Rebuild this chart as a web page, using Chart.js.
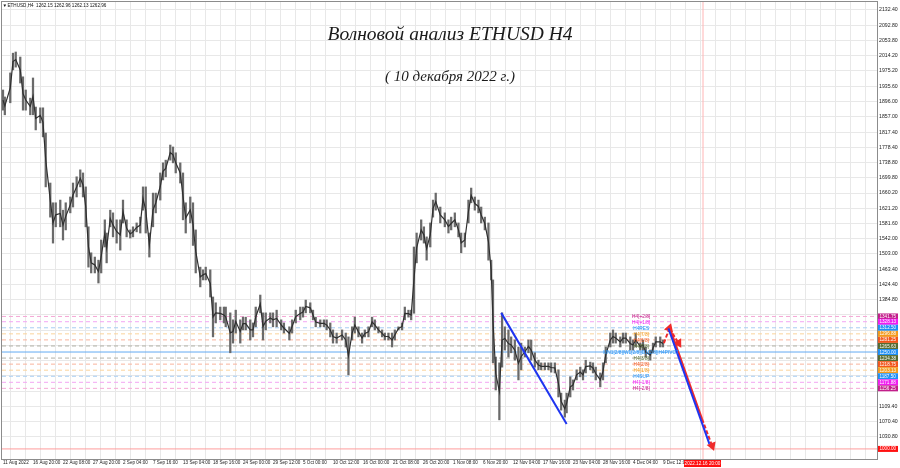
<!DOCTYPE html>
<html>
<head>
<meta charset="utf-8">
<script src="https://cdn.jsdelivr.net/npm/chart.js@4.4.1/dist/chart.umd.min.js"></script>
<style>
    html, body { margin: 0; padding: 0; background: #fff; }
    #wrap { width: 900px; height: 468px; position: relative; }
</style>
</head>
<body>
<div id="wrap"><canvas id="chart" width="900" height="468"></canvas></div>
<script>
// ETHUSD H4 - bar number (4h bars counted from 11 Aug 2022) with high / low
const barIdx = [0,2,8,11,14,19,22,25,30,33,36,41,44,47,52,55,58,63,66,69,74,77,81,85,88,91,94,97,101,105,108,112,114,118,121,125,129,132,136,140,143,147,151,154,157,161,165,168,173,176,179,184,187,190,195,198,201,206,209,212,217,220,223,228,231,234,239,243,245,250,253,256,261,264,267,272,275,278,283,286,289,294,297,301,306,309,315,318,322,327,330,333,338,341,344,349,353,356,360,363,367,373,377,380,384,387,391,395,398,402,406,409,413,417,420,424,428,431,435,439,442,446,449,452,455,460,463,466,470,473,476,481,486,490,493,497,501,504,508,512,515,519,523,526,530,534,537,539,542,546,549,552,556,559,563,567,570,574,578,581,585,589,592,596,600,603,607,611,614,618,620,624,627,631,635,638,641,646,649,652,657,660,663,668,671,674,679,682,685,690,693,696,701,704,707,712,715,718,723,726];
const barHigh = [1926,1908,1970,2021,2024,2011,1960,1926,1905,1957,1882,1880,1880,1815,1686,1635,1635,1642,1616,1635,1650,1686,1702,1720,1712,1676,1573,1506,1495,1487,1539,1591,1557,1616,1609,1591,1591,1642,1591,1565,1573,1583,1598,1676,1676,1557,1660,1660,1712,1738,1745,1784,1779,1764,1738,1712,1635,1650,1635,1565,1469,1462,1469,1462,1392,1377,1366,1366,1366,1351,1333,1358,1333,1340,1340,1333,1325,1366,1397,1351,1351,1351,1351,1358,1333,1325,1315,1333,1358,1366,1366,1384,1377,1358,1340,1333,1333,1333,1325,1307,1299,1307,1299,1289,1315,1340,1315,1299,1307,1315,1340,1333,1315,1307,1299,1299,1299,1307,1315,1325,1366,1358,1358,1521,1557,1591,1573,1547,1583,1642,1660,1624,1609,1591,1598,1609,1583,1557,1557,1642,1673,1650,1642,1624,1598,1583,1487,1436,1237,1222,1351,1315,1307,1289,1281,1263,1273,1263,1281,1281,1248,1229,1222,1222,1222,1222,1222,1204,1144,1126,1144,1186,1178,1204,1211,1204,1229,1224,1222,1211,1196,1222,1263,1299,1307,1299,1289,1299,1299,1289,1281,1299,1273,1281,1263,1255,1273,1289,1289,1281];
const barLow = [1874,1862,1893,1978,1985,1944,1874,1874,1862,1862,1823,1841,1805,1676,1598,1531,1573,1573,1539,1565,1609,1624,1650,1676,1650,1573,1469,1454,1454,1428,1454,1521,1480,1573,1547,1531,1513,1583,1547,1544,1547,1560,1557,1616,1557,1495,1573,1609,1642,1694,1702,1745,1738,1712,1686,1591,1557,1583,1525,1454,1418,1436,1436,1392,1289,1325,1333,1325,1315,1248,1273,1299,1273,1307,1307,1281,1289,1315,1351,1281,1307,1325,1315,1315,1307,1299,1281,1299,1325,1333,1340,1351,1351,1333,1315,1315,1315,1307,1289,1273,1273,1281,1263,1191,1281,1299,1289,1273,1289,1289,1315,1307,1299,1289,1281,1281,1263,1281,1307,1307,1333,1340,1333,1350,1480,1539,1531,1487,1521,1598,1616,1583,1573,1557,1565,1573,1547,1506,1521,1583,1635,1616,1609,1583,1565,1487,1436,1222,1152,1075,1211,1255,1237,1248,1229,1178,1204,1237,1248,1229,1211,1204,1204,1204,1204,1198,1196,1134,1100,1082,1093,1134,1152,1178,1186,1178,1196,1204,1196,1178,1160,1178,1222,1263,1273,1273,1263,1273,1273,1255,1255,1263,1255,1255,1237,1229,1248,1263,1263,1263];

// time axis captions, one every 33 bars
const xTickLabels = ['11 Aug 2022','16 Aug 20:00','22 Aug 08:00','27 Aug 20:00','2 Sep 04:00','7 Sep 16:00','13 Sep 04:00','18 Sep 16:00','24 Sep 00:00','29 Sep 12:00','5 Oct 00:00','10 Oct 12:00','16 Oct 00:00','21 Oct 08:00','26 Oct 20:00','1 Nov 08:00','6 Nov 20:00','12 Nov 04:00','17 Nov 16:00','23 Nov 04:00','28 Nov 16:00','4 Dec 04:00','9 Dec 12:00'];
const yTickValues = [2132.4,2092.8,2053.8,2014.2,1975.2,1935.6,1896.0,1857.0,1817.4,1778.4,1738.8,1699.8,1660.2,1621.2,1581.6,1542.0,1503.0,1463.4,1424.4,1384.8,1345.8,1306.2,1267.2,1227.6,1188.6,1149.0,1109.4,1070.4,1030.8];
const yTickText = ['2132.40','2092.80','2053.80','2014.20','1975.20','1935.60','1896.00','1857.00','1817.40','1778.40','1738.80','1699.80','1660.20','1621.20','1581.60','1542.00','1503.00','1463.40','1424.40','1384.80','','','','','','','1109.40','1070.40','1030.80'];

// Murrey math levels
const mmLevels = [1341.75,1328.13,1312.50,1296.88,1281.25,1265.63,1250.00,1234.38,1218.75,1203.13,1187.50,1171.88,1156.25];
const mmNames = ['H4[+2/8]','H4[+1/8]','H4RES','H4[7/8]','H4[6/8]','H4[5/8]','MN1[2/8]|W1[2/8]|D1[2/8]|H4PIVOT','H4[3/8]','H4[2/8]','H4[1/8]','H4SUP','H4[-1/8]','H4[-2/8]'];
const mmTagColors = ['#c21f8a','#f01cf0','#1e8ff5','#f39a1c','#f2561c','#556b2f','#1e8ff5','#556b2f','#f2561c','#f39a1c','#1e8ff5','#f01cf0','#c21f8a'];
const mmLineColors = ['#f5a8d6','#f3a6f3','#a6cdf3','#fbd39a','#f9b39c','#b0b0a6','#62aaf2','#b0b0a6','#f9b39c','#fbd39a','#a6cdf3','#f3a6f3','#f5a8d6'];

const targetLevel = 1000.00;
const timeLineBar = 770;
const timeLineText = '2022.12.16 20:00';

// hand drawn wave lines [bar, price]
const blueLineA = [[548, 1351], [620, 1064]];
const blueLineB = [[732, 1311], [777, 1013]];
const redLine = [[735, 1302], [769, 1077]];
const redDashEnd = [[769, 1077], [780, 1008]];
const redDashUp = [[727, 1273], [733, 1311]];
const redDashDown = [[733, 1311], [743, 1273]];

const X_MIN = -1.1, X_MAX = 961.4, Y_MIN = 974, Y_MAX = 2153;
const levelTextBar = 702;

const xGrid = [];
for (let v = 0; v <= X_MAX; v += 16.5) xGrid.push(v);

function seg(points, color, dashed, arrowRot) {
    return {
        type: 'line',
        data: points.map(p => ({ x: p[0], y: p[1] })),
        borderColor: color,
        borderWidth: 2,
        borderDash: dashed ? [4, 2] : [],
        pointRadius: arrowRot == null ? 0 : [0, 3.5],
        pointStyle: 'triangle',
        rotation: arrowRot == null ? 0 : [0, arrowRot],
        pointBackgroundColor: color,
        pointBorderColor: color,
        order: 0
    };
}

const levelSets = mmLevels.map((v, i) => ({
    type: 'line',
    data: [{ x: X_MIN, y: v }, { x: X_MAX, y: v }],
    borderColor: mmLineColors[i],
    borderWidth: 1,
    borderDash: i === 6 ? [] : [4, 3],
    pointRadius: 0,
    order: 3
}));

const noPad = s => { s.paddingLeft = 0; s.paddingRight = 0; s.paddingTop = 0; s.paddingBottom = 0; };

const overlay = {
    id: 'overlay',
    afterDraw(chart) {
        const { ctx, chartArea: a, scales: { x, y } } = chart;
        ctx.save();
        ctx.strokeStyle = '#8c8c8c';
        ctx.lineWidth = 1;
        ctx.strokeRect(a.left - 0.5, a.top - 0.5, a.right - a.left + 1, a.bottom - a.top + 1);

        // level captions inside the chart
        ctx.font = '4.8px "Liberation Sans"';
        ctx.textAlign = 'center';
        ctx.textBaseline = 'middle';
        mmLevels.forEach((v, i) => {
            ctx.fillStyle = mmTagColors[i];
            ctx.fillText(mmNames[i], x.getPixelForValue(levelTextBar), y.getPixelForValue(v) + 0.5);
        });

        // price tags on the right axis
        ctx.font = '4.6px "Liberation Sans"';
        ctx.textAlign = 'left';
        const tags = mmLevels.map((v, i) => [v, mmTagColors[i]]).concat([[targetLevel, '#ff1010']]);
        tags.forEach(([v, c]) => {
            const py = y.getPixelForValue(v);
            ctx.fillStyle = c;
            ctx.fillRect(a.right + 1, py - 3, 20, 6);
            ctx.fillStyle = '#fff';
            ctx.fillText(v.toFixed(2), a.right + 2.5, py + 0.3);
        });

        // time tag under the vertical line
        const tx = x.getPixelForValue(timeLineBar);
        ctx.fillStyle = '#ff1010';
        ctx.fillRect(tx - 19, a.bottom + 1, 37, 7);
        ctx.fillStyle = '#fff';
        ctx.textAlign = 'center';
        ctx.fillText(timeLineText, tx - 0.5, a.bottom + 4.7);

        // symbol header
        ctx.fillStyle = '#111';
        ctx.textAlign = 'left';
        ctx.font = '4.6px "Liberation Sans"';
        ctx.fillText('\u25BC', 2.5, 5.5);
        ctx.fillText('ETHUSD,H4  1262.15 1262.96 1262.13 1262.96', 7.5, 5.5);

        // title
        ctx.textAlign = 'center';
        ctx.fillStyle = '#1a1a1a';
        ctx.font = 'italic 19.5px "Liberation Serif"';
        ctx.fillText('Волновой анализ ETHUSD H4', 450, 35);
        ctx.font = 'italic 15px "Liberation Serif"';
        ctx.fillText('( 10 декабря 2022 г.)', 450, 77);
        ctx.restore();
    }
};

new Chart(document.getElementById('chart'), {
    type: 'bar',
    data: {
        datasets: [
            seg(blueLineA, '#1f35f0', false),
            seg(blueLineB, '#1f35f0', false),
            seg(redLine, '#f02a2a', false),
            seg(redDashEnd, '#f02a2a', true, 159),
            seg(redDashUp, '#f02a2a', true, 18),
            seg(redDashDown, '#f02a2a', true, 149),
            {
                type: 'line',
                data: barIdx.map((b, i) => ({ x: b, y: (barLow[i] + barHigh[i]) / 2 })),
                borderColor: '#2f2f2f',
                borderWidth: 1.2,
                pointRadius: 0,
                order: 1
            },
            {
                type: 'bar',
                data: barIdx.map((b, i) => ({ x: b, y: [barLow[i], barHigh[i]] })),
                backgroundColor: '#6a6a6a',
                barThickness: 1.6,
                grouped: false,
                order: 2
            },
            {
                type: 'line',
                data: [{ x: X_MIN, y: targetLevel }, { x: X_MAX, y: targetLevel }],
                borderColor: '#ff9c9c',
                borderWidth: 1,
                pointRadius: 0,
                order: 3
            },
            {
                type: 'line',
                data: [{ x: timeLineBar, y: Y_MIN }, { x: timeLineBar, y: Y_MAX }],
                borderColor: '#ffb4b4',
                borderWidth: 1,
                pointRadius: 0,
                order: 3
            },
            ...levelSets
        ]
    },
    options: {
        responsive: false,
        animation: false,
        devicePixelRatio: 1,
        layout: { autoPadding: false, padding: { left: 2, top: 2, right: 0, bottom: 0 } },
        plugins: { legend: { display: false }, tooltip: { enabled: false }, title: { display: false } },
        scales: {
            x: {
                type: 'linear',
                min: X_MIN,
                max: X_MAX,
                offset: false,
                afterBuildTicks: s => { s.ticks = xGrid.map(v => ({ value: v })); },
                afterFit: s => { s.height = 9; noPad(s); },
                ticks: {
                    autoSkip: false,
                    maxRotation: 0,
                    align: 'start',
                    padding: 1,
                    color: '#222',
                    font: { size: 4.6, family: 'Liberation Sans' },
                    callback: (v, i) => (i % 2 === 0 ? (xTickLabels[i / 2] || '') : '')
                },
                grid: { color: '#e8e8e8', drawTicks: false },
                border: { color: '#8c8c8c' }
            },
            y: {
                position: 'right',
                min: Y_MIN,
                max: Y_MAX,
                afterBuildTicks: s => { s.ticks = yTickValues.map(v => ({ value: v })); },
                afterFit: s => { s.width = 23; noPad(s); },
                ticks: {
                    autoSkip: false,
                    padding: 2,
                    color: '#222',
                    font: { size: 5.2, family: 'Liberation Sans' },
                    callback: (v, i) => yTickText[i]
                },
                grid: { color: '#e8e8e8', drawTicks: false },
                border: { color: '#8c8c8c' }
            }
        }
    },
    plugins: [overlay]
});
</script>
</body>
</html>
